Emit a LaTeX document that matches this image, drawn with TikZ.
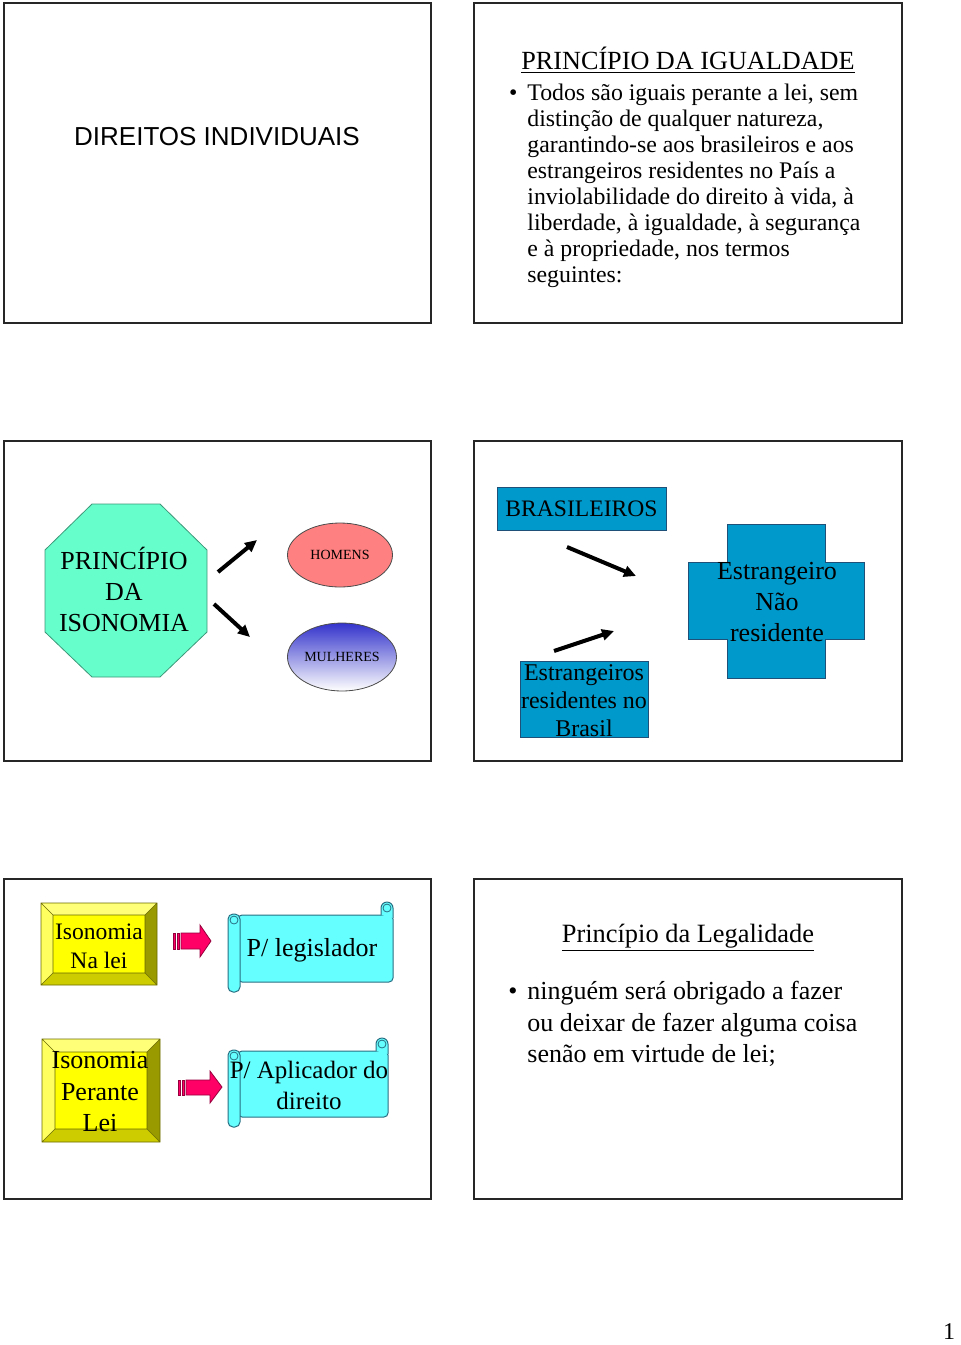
\documentclass[tikz,border=0pt]{standalone}
\usepackage{fontspec}
\setmainfont{Liberation Serif}
\setsansfont{Liberation Sans}
\usetikzlibrary{arrows.meta,shapes.geometric}

\definecolor{mint}{RGB}{102,255,204}
\definecolor{mintline}{RGB}{60,150,120}
\definecolor{salmon}{RGB}{255,128,128}
\definecolor{deepblue}{RGB}{51,51,204}
\definecolor{seablue}{RGB}{0,153,204}
\definecolor{sealine}{RGB}{30,80,120}
\definecolor{scrollcyan}{RGB}{102,255,255}
\definecolor{scrollline}{RGB}{40,110,130}
\definecolor{arrowpink}{RGB}{255,0,102}
\definecolor{arrowdark}{RGB}{150,0,60}
\definecolor{bevface}{RGB}{255,255,0}
\definecolor{bevlight}{RGB}{255,255,120}
\definecolor{bevdark}{RGB}{153,153,0}
\definecolor{bevmid}{RGB}{204,204,0}

% raised yellow box: (#1,#2) top left, (#3,#4) bottom right, #5 bevel
\newcommand{\bevbox}[5]{%
  \fill[bevlight] (#1,#2) -- (#3,#2) -- (#3-#5,#2+#5) -- (#1+#5,#2+#5) -- cycle;
  \fill[bevlight!80!bevface] (#1,#2) -- (#1+#5,#2+#5) -- (#1+#5,#4-#5) -- (#1,#4) -- cycle;
  \fill[bevdark] (#3,#2) -- (#3,#4) -- (#3-#5,#4-#5) -- (#3-#5,#2+#5) -- cycle;
  \fill[bevmid] (#1,#4) -- (#3,#4) -- (#3-#5,#4-#5) -- (#1+#5,#4-#5) -- cycle;
  \fill[bevface] (#1+#5,#2+#5) rectangle (#3-#5,#4-#5);
  \draw[bevline] (#1,#2) rectangle (#3,#4) (#1+#5,#2+#5) rectangle (#3-#5,#4-#5)
    (#1,#2) -- (#1+#5,#2+#5) (#3,#2) -- (#3-#5,#2+#5)
    (#1,#4) -- (#1+#5,#4-#5) (#3,#4) -- (#3-#5,#4-#5);
}

% scroll: #1 left of roll, #2 top, #3 right, #4 bottom
\newcommand{\scrollbox}[4]{%
  \filldraw[scroll,rounded corners=2pt] (#1+10,#2) rectangle (#3,#4);
  \filldraw[scroll,rounded corners=3pt] (#3-12,#2) -- (#3-12,#2-13) -- (#3,#2-13) -- (#3,#2+3);
  \filldraw[scroll,rounded corners=2.5pt] (#1,#2-1) rectangle (#1+12,#4+10);
  \draw[scrollline,line width=0.4pt] (#3-6,#2-7) circle[radius=2pt];
  \draw[scrollline,line width=0.4pt] (#1+6,#2+5) circle[radius=2pt];
}

\begin{document}
\begin{tikzpicture}[x=0.5pt,y=-0.5pt,>={Triangle[length=6pt,width=5.5pt]},
    slide/.style={draw=black!85,line width=1.3pt},
    txt/.style={inner sep=0pt,align=center},
    thickarrow/.style={line width=2pt},
    bluebox/.style={fill=seablue,draw=sealine,line width=0.4pt},
    scroll/.style={fill=scrollcyan,draw=scrollline,line width=0.5pt},
    bevline/.style={draw=bevdark!70!black,line width=0.3pt},
    blockarrow/.style={fill=arrowpink,draw=arrowdark,line width=0.4pt}]
  \useasboundingbox (0,0) rectangle (960,1345);

  % The six slide frames
  \draw[slide] (4,3) rectangle (431,323);
  \draw[slide] (474,3) rectangle (902,323);
  \draw[slide] (4,441) rectangle (431,761);
  \draw[slide] (474,441) rectangle (902,761);
  \draw[slide] (4,879) rectangle (431,1199);
  \draw[slide] (474,879) rectangle (902,1199);

  % Slide 1: title
  \node[txt,font=\sffamily\fontsize{13}{15}\selectfont] (direitos) at (217,137) {DIREITOS INDIVIDUAIS};

  % Slide 2: principio da igualdade
  \node[txt,font=\fontsize{13.1}{15}\selectfont] (igualdade) at (688,60) {\underline{PRINCÍPIO DA IGUALDADE}};
  \node[txt,align=left,anchor=west,font=\fontsize{11.9}{13}\selectfont] (todos) at (527,186)
    {\llap{\textbullet\hspace{5pt}}Todos são iguais perante a lei, sem\\
     distinção de qualquer natureza,\\
     garantindo-se aos brasileiros e aos\\
     estrangeiros residentes no País a\\
     inviolabilidade do direito à vida, à\\
     liberdade, à igualdade, à segurança\\
     e à propriedade, nos termos\\
     seguintes:};

  % Slide 3: isonomia
  \filldraw[fill=mint,draw=mintline,line width=0.4pt] (92,504) -- (160,504) -- (207,550) -- (207,632)
    -- (160,677) -- (92,677) -- (45,632) -- (45,550) -- cycle;
  \node[txt,font=\fontsize{13}{15.5}\selectfont] (isonomia) at (124,589) {PRINCÍPIO\\DA\\ISONOMIA};
  \node[ellipse,fill=salmon,draw=black!70,line width=0.4pt,inner sep=0pt,
    minimum width=52.5pt,minimum height=32pt,font=\fontsize{7}{8}\selectfont] (homens) at (340,555) {HOMENS};
  \node[ellipse,top color=deepblue,bottom color=white,draw=black!70,line width=0.4pt,inner sep=0pt,
    minimum width=54.5pt,minimum height=34pt,font=\fontsize{7}{8}\selectfont] (mulheres) at (342,657) {MULHERES};
  \coordinate (upS) at (218,572);
  \coordinate (upE) at (257,540);
  \coordinate (downS) at (214,604);
  \coordinate (downE) at (250,637);
  \draw[->,thickarrow] (upS) -- (upE);
  \draw[->,thickarrow] (downS) -- (downE);

  % Slide 4: brasileiros e estrangeiros
  \node[bluebox,txt,minimum width=84.5pt,minimum height=21.5pt,font=\fontsize{11.8}{13}\selectfont]
    (brasileiros) at (581.5,508.5) {BRASILEIROS};
  \fill[bluebox] (520,661) rectangle (648,737);
  \node[txt,font=\fontsize{12}{14}\selectfont] (residentes) at (584,701) {Estrangeiros\\residentes no\\Brasil};
  \filldraw[bluebox] (727,524) -- (825,524) -- (825,562) -- (864,562) -- (864,639) -- (825,639)
    -- (825,678) -- (727,678) -- (727,639) -- (688,639) -- (688,562) -- (727,562) -- cycle;
  \node[txt,font=\fontsize{13}{15.5}\selectfont] (naores) at (777,602) {Estrangeiro\\Não\\residente};
  \coordinate (brS) at (567,547);
  \coordinate (brE) at (636,576);
  \coordinate (erS) at (554,651);
  \coordinate (erE) at (614,631);
  \draw[->,thickarrow] (brS) -- (brE);
  \draw[->,thickarrow] (erS) -- (erE);

  % Slide 5: isonomia na lei / perante a lei
  \bevbox{41}{903}{157}{985}{12}
  \bevbox{42}{1039}{160}{1142}{13}
  \node[txt,font=\fontsize{11.8}{14.5}\selectfont] (nalei) at (99,946) {Isonomia\\Na lei};
  \node[txt,font=\fontsize{13}{15.75}\selectfont] (perante) at (100,1092) {Isonomia\\Perante\\Lei};
  \filldraw[blockarrow] (181,933) -- (200,933) -- (200,925) -- (211,941) -- (200,957) -- (200,949)
    -- (181,949) -- cycle;
  \filldraw[blockarrow] (173,933) rectangle (175.5,949);
  \filldraw[blockarrow] (177,933) rectangle (179.5,949);
  \filldraw[blockarrow] (186,1080) -- (210,1080) -- (210,1071) -- (222,1087) -- (210,1103) -- (210,1095)
    -- (186,1095) -- cycle;
  \filldraw[blockarrow] (178,1080) rectangle (180.5,1095);
  \filldraw[blockarrow] (182,1080) rectangle (184.5,1095);
  \scrollbox{228}{915}{393}{982}
  \scrollbox{228}{1051}{388}{1117}
  \node[txt,font=\fontsize{13}{15.5}\selectfont] (legislador) at (312,950) {P/ legislador};
  \node[txt,font=\fontsize{12.5}{15.5}\selectfont] (aplicador) at (309,1085) {P/ Aplicador do\\direito};

  % Slide 6: principio da legalidade
  \node[txt,font=\fontsize{13.2}{15}\selectfont] (legalidade) at (688,938) {\underline{Princípio da Legalidade}};
  \node[txt,align=left,anchor=west,font=\fontsize{13}{15.75}\selectfont] (ninguem) at (527,1024)
    {\llap{\textbullet\hspace{5pt}}ninguém será obrigado a fazer\\
     ou deixar de fazer alguma coisa\\
     senão em virtude de lei;};

  % Page number
  \node[txt,font=\fontsize{12}{14}\selectfont] (pagina) at (949,1332) {1};
\end{tikzpicture}
\end{document}
